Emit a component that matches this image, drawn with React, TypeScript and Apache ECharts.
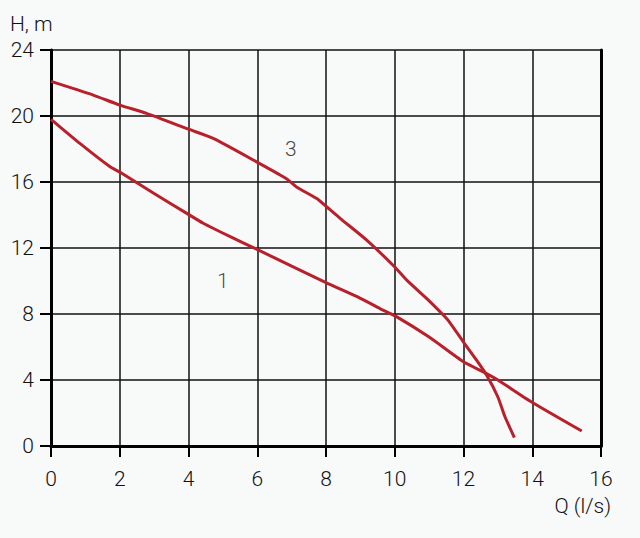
import React, { useEffect, useRef } from "react";
import * as echarts from "echarts";

const xTicks = [0, 2, 4, 6, 8, 10, 12, 14, 16];
const yTicks = [0, 4, 8, 12, 16, 20, 24];

const curve1: [number, number][] = [
  [0, 19.8], [0.84, 18.34], [1.72, 16.92], [2.0, 16.6], [3.0, 15.3], [3.95, 14.1], [4.43, 13.5],
  [5.2, 12.7], [5.98, 11.93], [7.0, 10.9], [8.0, 9.9], [9.0, 8.95], [9.57, 8.33], [10.0, 7.9],
  [11.0, 6.6], [12.0, 5.1], [12.67, 4.39], [13.0, 4.0], [13.98, 2.67], [15.44, 0.91],
];

const curve3: [number, number][] = [
  [0, 22.1], [1.23, 21.27], [2.0, 20.66], [2.78, 20.16], [4.0, 19.2], [4.72, 18.64], [5.98, 17.22],
  [6.85, 16.2], [7.14, 15.7], [7.73, 15.0], [8.02, 14.5], [8.41, 13.8], [9.2, 12.45], [10.0, 10.85],
  [10.35, 10.05], [11.0, 8.8], [11.37, 8.03], [11.56, 7.6], [12.0, 6.3], [12.38, 5.2],
  [12.67, 4.3], [13.0, 2.97], [13.2, 1.8], [13.48, 0.51],
];

const curveLabels: { name: string; q: number; h: number }[] = [
  { name: "1", q: 5.0, h: 10.0 },
  { name: "3", q: 6.98, h: 18.0 },
];

const FONT = "Roboto, sans-serif";
const RED = "#b8202b";

export default function App() {
  const ref = useRef<HTMLDivElement>(null);
  useEffect(() => {
    if (!ref.current) return;
    const chart = echarts.init(ref.current, undefined, { renderer: "svg" });
    chart.setOption({
      animation: false,
      backgroundColor: "#f8f9f9",
      textStyle: { fontFamily: FONT },
      grid: { left: 51, right: 39, top: 50, bottom: 92, containLabel: false },
      xAxis: {
        type: "value",
        min: xTicks[0],
        max: xTicks[xTicks.length - 1],
        interval: 2,
        axisLine: { show: true, onZero: false, lineStyle: { color: "#000", width: 3 } },
        axisTick: { show: true, length: 11, lineStyle: { color: "#000", width: 2 } },
        axisLabel: { color: "#111", fontSize: 21, fontWeight: 300, margin: 22, fontFamily: FONT },
        splitLine: { show: true, lineStyle: { color: "#111", width: 1.5 } },
      },
      yAxis: [
        {
          type: "value",
          min: yTicks[0],
          max: yTicks[yTicks.length - 1],
          interval: 4,
          axisLine: { show: true, onZero: false, lineStyle: { color: "#000", width: 3 } },
          axisTick: { show: true, length: 11, lineStyle: { color: "#000", width: 2 } },
          axisLabel: { color: "#111", fontSize: 21, fontWeight: 300, margin: 17, fontFamily: FONT },
          splitLine: { show: true, lineStyle: { color: "#111", width: 1.5 } },
        },
        {
          type: "value",
          position: "right",
          min: yTicks[0],
          max: yTicks[yTicks.length - 1],
          interval: 4,
          axisLine: { show: true, onZero: false, lineStyle: { color: "#000", width: 3 } },
          axisTick: { show: false },
          axisLabel: { show: false },
          splitLine: { show: false },
        },
      ],
      series: [
        {
          type: "line",
          name: "1",
          data: curve1,
          showSymbol: false,
          smooth: 0.2,
          lineStyle: { color: RED, width: 3 },
        },
        {
          type: "line",
          name: "3",
          data: curve3,
          showSymbol: false,
          smooth: 0.2,
          lineStyle: { color: RED, width: 3 },
        },
        {
          type: "scatter",
          data: curveLabels.map((l) => ({ value: [l.q, l.h], name: l.name })),
          symbolSize: 0,
          label: {
            show: true,
            position: "inside",
            formatter: (p: any) => p.name,
            color: "#111",
            fontSize: 21,
            fontWeight: 300,
            fontFamily: FONT,
          },
        },
      ],
      graphic: [
        {
          type: "text",
          left: 10,
          top: 13,
          style: { text: "H, m", fontSize: 21, fontWeight: 300, fill: "#111", fontFamily: FONT },
        },
        {
          type: "text",
          right: 29,
          top: 495,
          style: { text: "Q (l/s)", fontSize: 21, fontWeight: 300, fill: "#111", fontFamily: FONT },
        },
      ],
    });
    return () => chart.dispose();
  }, []);
  return (
    <div
      ref={ref}
      style={{ position: "fixed", left: 0, top: 0, width: 640, height: 538 }}
    />
  );
}
